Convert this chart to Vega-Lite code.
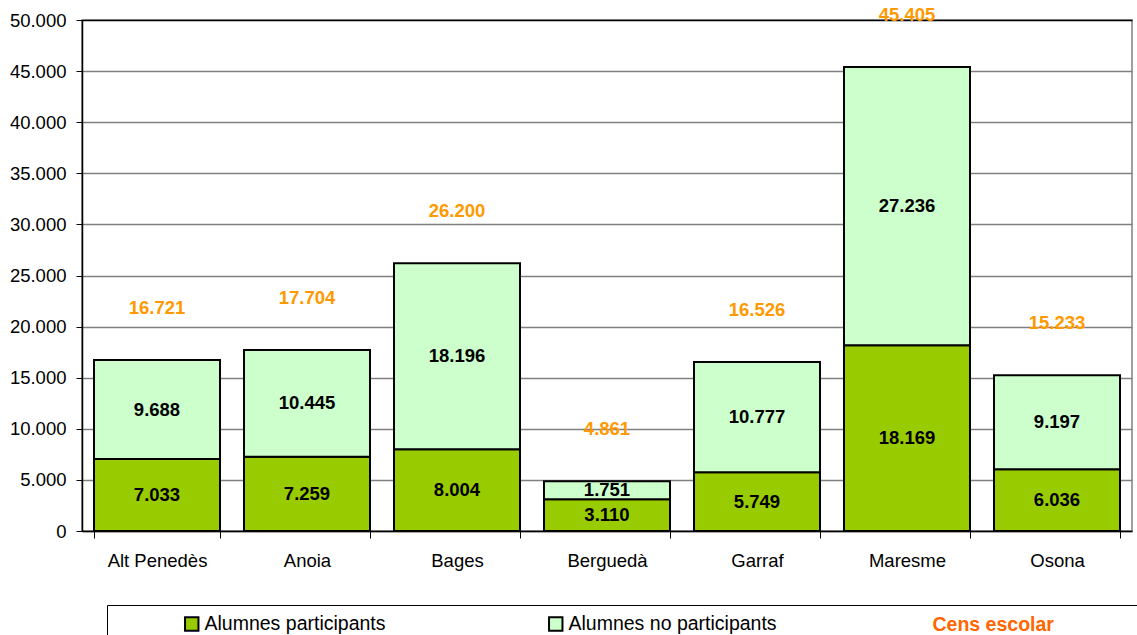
{
  "$schema": "https://vega.github.io/schema/vega-lite/v6.json",
  "width": 1050,
  "height": 511,
  "autosize": {"type": "none"},
  "padding": {"left": 82, "top": 20, "right": 5, "bottom": 104},
  "background": "white",
  "config": {
    "locale": {"number": {"decimal": ",", "thousands": ".", "grouping": [3], "currency": ["", ""]}},
    "font": "Liberation Sans",
    "view": {"stroke": "#808080", "strokeWidth": 1.5}
  },
  "datasets": {
    "seg": [
      {"comarca": "Alt Penedès", "series": "Alumnes participants", "value": 7033},
      {"comarca": "Alt Penedès", "series": "Alumnes no participants", "value": 9688},
      {"comarca": "Anoia", "series": "Alumnes participants", "value": 7259},
      {"comarca": "Anoia", "series": "Alumnes no participants", "value": 10445},
      {"comarca": "Bages", "series": "Alumnes participants", "value": 8004},
      {"comarca": "Bages", "series": "Alumnes no participants", "value": 18196},
      {"comarca": "Berguedà", "series": "Alumnes participants", "value": 3110},
      {"comarca": "Berguedà", "series": "Alumnes no participants", "value": 1751},
      {"comarca": "Garraf", "series": "Alumnes participants", "value": 5749},
      {"comarca": "Garraf", "series": "Alumnes no participants", "value": 10777},
      {"comarca": "Maresme", "series": "Alumnes participants", "value": 18169},
      {"comarca": "Maresme", "series": "Alumnes no participants", "value": 27236},
      {"comarca": "Osona", "series": "Alumnes participants", "value": 6036},
      {"comarca": "Osona", "series": "Alumnes no participants", "value": 9197}
    ],
    "tot": [
      {"comarca": "Alt Penedès", "total": 16721},
      {"comarca": "Anoia", "total": 17704},
      {"comarca": "Bages", "total": 26200},
      {"comarca": "Berguedà", "total": 4861},
      {"comarca": "Garraf", "total": 16526},
      {"comarca": "Maresme", "total": 45405},
      {"comarca": "Osona", "total": 15233}
    ]
  },
  "encoding": {
    "x": {
      "field": "comarca", "type": "nominal", "sort": null,
      "scale": {"paddingInner": 0.16, "paddingOuter": 0.08},
      "axis": {
        "title": null, "labelAngle": 0, "labelFontSize": 18.5, "labelColor": "black",
        "labelFont": "Liberation Sans", "tickBand": "extent", "tickSize": 7,
        "tickColor": "black", "domainColor": "black", "domainWidth": 1.5,
        "labelPadding": 13
      }
    }
  },
  "layer": [
    {
      "data": {"name": "seg"},
      "mark": {"type": "bar", "stroke": "black", "strokeWidth": 2},
      "encoding": {
        "y": {
          "field": "value", "type": "quantitative", "stack": "zero",
          "scale": {"domain": [0, 50000], "nice": false},
          "axis": {
            "title": null, "values": [0, 5000, 10000, 15000, 20000, 25000, 30000, 35000, 40000, 45000, 50000],
            "format": ",.0f", "grid": true,
            "gridColor": {"condition": {"test": "datum.value === 50000", "value": "black"}, "value": "#808080"},
            "gridWidth": 1.5,
            "labelFontSize": 18.5, "labelColor": "black", "labelFont": "Liberation Sans",
            "tickSize": 6, "tickColor": "black", "labelPadding": 10,
            "domainColor": "black", "domainWidth": 1.5
          }
        },
        "color": {
          "field": "series", "type": "nominal",
          "scale": {
            "domain": ["Alumnes participants", "Alumnes no participants", "Cens escolar", " "],
            "range": ["#99CC00", "#CCFFCC", "transparent", "transparent"]
          },
          "legend": {
            "orient": "none", "legendX": 25, "legendY": 585,
            "direction": "horizontal", "columns": 4, "gridAlign": "all",
            "columnPadding": 132, "symbolType": "square", "symbolSize": 180,
            "symbolStrokeColor": "black", "symbolStrokeWidth": 2,
            "labelFontSize": 19.5, "labelFont": "Liberation Sans", "labelColor": "black",
            "labelLimit": 0, "labelOffset": 3, "padding": 9,
            "strokeColor": "black", "title": "\u00a0", "titleOrient": "left",
            "titlePadding": 66, "titleFontSize": 8,
            "encode": {
              "labels": {"update": {
                "fill": {"signal": "datum.value === 'Cens escolar' ? '#FF6600' : 'black'"},
                "fontWeight": {"signal": "datum.value === 'Cens escolar' ? 'bold' : 'normal'"}
              }},
              "symbols": {"update": {
                "opacity": {"signal": "datum.value === 'Cens escolar' || datum.value === ' ' ? 0 : 1"}
              }}
            }
          }
        },
        "order": {"field": "series", "sort": "descending"}
      }
    },
    {
      "data": {"name": "seg"},
      "mark": {"type": "text", "fontWeight": "bold", "fontSize": 18.5, "color": "black", "font": "Liberation Sans"},
      "encoding": {
        "y": {"field": "value", "type": "quantitative", "stack": "zero", "bandPosition": 0.5},
        "detail": {"field": "series"},
        "order": {"field": "series", "sort": "descending"},
        "text": {"field": "value", "type": "quantitative", "format": ",.0f"}
      }
    },
    {
      "data": {"name": "tot"},
      "mark": {"type": "text", "fontWeight": "bold", "fontSize": 18.5, "color": "#FF9900", "font": "Liberation Sans", "dy": -52},
      "encoding": {
        "y": {"field": "total", "type": "quantitative"},
        "text": {"field": "total", "type": "quantitative", "format": ",.0f"}
      }
    }
  ]
}
